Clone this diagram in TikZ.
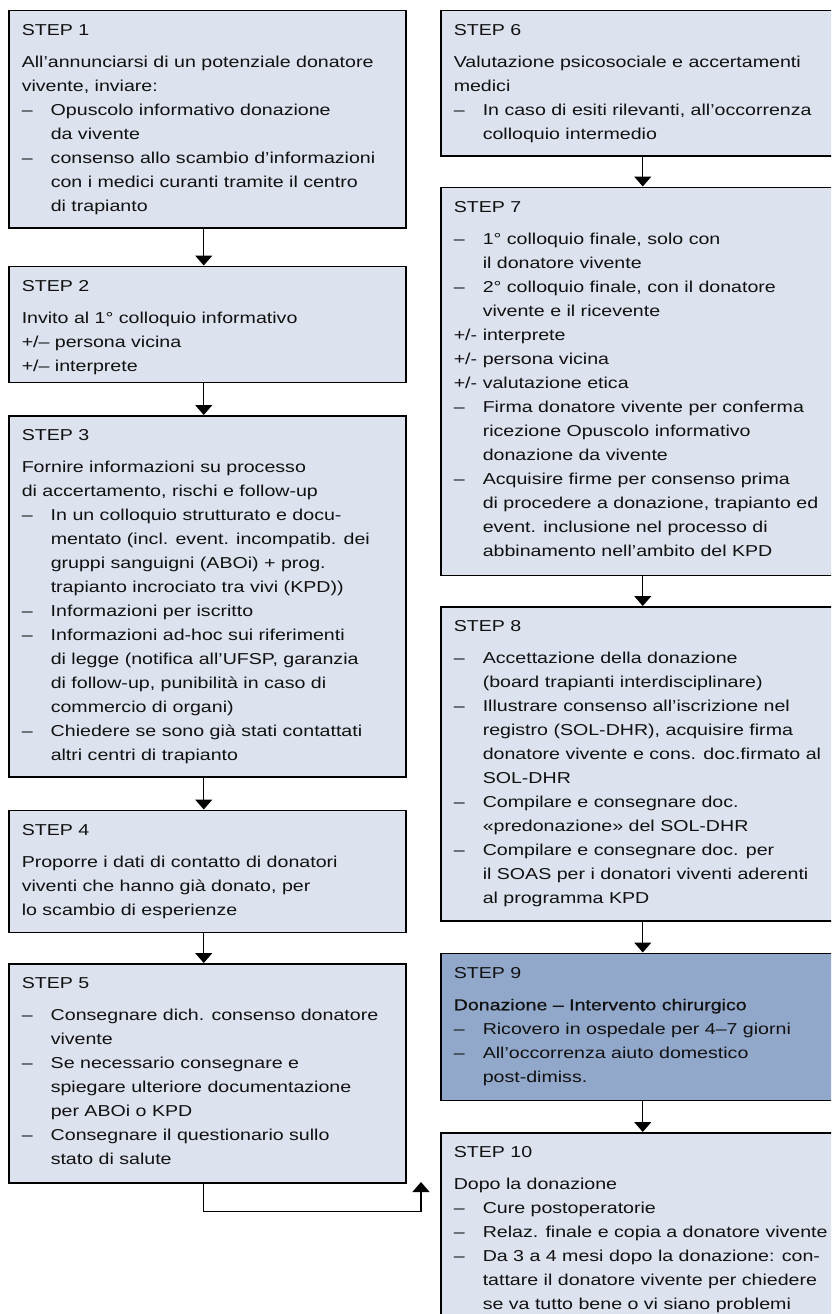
\documentclass[tikz,border=0pt]{standalone}
\usepackage{fontspec}
\setmainfont{Liberation Sans}[FakeStretch=1.24]
\usetikzlibrary{positioning,arrows.meta}

\definecolor{boxfill}{HTML}{DCE2EE}
\definecolor{boxdark}{HTML}{92A8CB}
\definecolor{ink}{HTML}{111111}

\newcommand{\head}[1]{\vspace*{14pt}#1\par\vspace{8pt}}
\newcommand{\itm}[2][–]{\par\hangindent=29pt\hangafter=1\noindent\makebox[29pt][l]{#1}#2}

\tikzset{
    stepbox/.style = {
        draw=black,
        line width=1.5pt,
        fill=boxfill,
        inner xsep=13pt,
        inner ysep=0pt,
        text=ink,
        font=\fontsize{15.8pt}{24pt}\selectfont
    },
    flow/.style = {
        line width=1.3pt,
        -{Triangle[width=17pt,length=10pt]}
    }
}

\begin{document}
\begin{tikzpicture}[x=1pt,y=-1pt]
    \useasboundingbox (0,0) rectangle (831,1314);
    \clip (0,0) rectangle (831,1314);

    % Left column
    \node[stepbox, anchor=north west] (step1) at (8,10) {\parbox[t][217pt][t]{371pt}{\head{STEP 1}
        All’annunciarsi di un potenziale donatore\\vivente, inviare:
        \itm{Opuscolo informativo donazione\\da vivente}
        \itm{consenso allo scambio d’informazioni\\con i medici curanti tramite il centro\\di trapianto}}};
    \node[stepbox, below=37pt of step1] (step2) {\parbox[t][116pt][t]{371pt}{\head{STEP 2}
        Invito al 1° colloquio informativo\\+/– persona vicina\\+/– interprete}};
    \node[stepbox, below=32pt of step2] (step3) {\parbox[t][361pt][t]{371pt}{\head{STEP 3}
        Fornire informazioni su processo\\di accertamento, rischi e follow-up
        \itm{In un colloquio strutturato e docu-\\mentato (incl. event. incompatib. dei\\gruppi sanguigni (ABOi) + prog.\\trapianto incrociato tra vivi (KPD))}
        \itm{Informazioni per iscritto}
        \itm{Informazioni ad-hoc sui riferimenti\\di legge (notifica all’UFSP, garanzia\\di follow-up, punibilità in caso di\\commercio di organi)}
        \itm{Chiedere se sono già stati contattati\\altri centri di trapianto}}};
    \node[stepbox, below=32pt of step3] (step4) {\parbox[t][122pt][t]{371pt}{\head{STEP 4}
        Proporre i dati di contatto di donatori\\viventi che hanno già donato, per\\lo scambio di esperienze}};
    \node[stepbox, below=30pt of step4] (step5) {\parbox[t][219pt][t]{371pt}{\head{STEP 5}
        \itm{Consegnare dich. consenso donatore\\vivente}
        \itm{Se necessario consegnare e\\spiegare ulteriore documentazione\\per ABOi o KPD}
        \itm{Consegnare il questionario sullo\\stato di salute}}};

    % Right column
    \node[stepbox, anchor=north west] (step6) at (440,10) {\parbox[t][145pt][t]{390pt}{\head{STEP 6}
        Valutazione psicosociale e accertamenti\\medici
        \itm{In caso di esiti rilevanti, all’occorrenza\\colloquio intermedio}}};
    \node[stepbox, below=30pt of step6] (step7) {\parbox[t][388pt][t]{390pt}{\head{STEP 7}
        \itm{1° colloquio finale, solo con\\il donatore vivente}
        \itm{2° colloquio finale, con il donatore\\vivente e il ricevente}
        \itm[+/-]{interprete}
        \itm[+/-]{persona vicina}
        \itm[+/-]{valutazione etica}
        \itm{Firma donatore vivente per conferma\\ricezione Opuscolo informativo\\donazione da vivente}
        \itm{Acquisire firme per consenso prima\\di procedere a donazione, trapianto ed\\event. inclusione nel processo di\\abbinamento nell’ambito del KPD}}};
    \node[stepbox, below=30pt of step7] (step8) {\parbox[t][314pt][t]{390pt}{\head{STEP 8}
        \itm{Accettazione della donazione\\(board trapianti interdisciplinare)}
        \itm{Illustrare consenso all’iscrizione nel\\registro (SOL-DHR), acquisire firma\\donatore vivente e cons. doc.firmato al\\SOL-DHR}
        \itm{Compilare e consegnare doc.\\«predonazione» del SOL-DHR}
        \itm{Compilare e consegnare doc. per\\il SOAS per i donatori viventi aderenti\\al programma KPD}}};
    \node[stepbox, fill=boxdark, below=31pt of step8] (step9) {\parbox[t][147pt][t]{390pt}{\head{STEP 9}
        {\addfontfeature{FakeBold=0.8}Donazione – Intervento chirurgico}
        \itm{Ricovero in ospedale per 4–7 giorni}
        \itm{All’occorrenza aiuto domestico\\post-dimiss.}}};
    \node[stepbox, below=31pt of step9] (step10) {\parbox[t][250pt][t]{390pt}{\head{STEP 10}
        Dopo la donazione
        \itm{Cure postoperatorie}
        \itm{Relaz. finale e copia a donatore vivente}
        \itm{Da 3 a 4 mesi dopo la donazione: con-\\tattare il donatore vivente per chiedere\\se va tutto bene o vi siano problemi}}};

    % Arrows
    \draw[flow] ([xshift=-3.5pt]step1.south) -- ([xshift=-3.5pt]step2.north);
    \draw[flow] ([xshift=-3.5pt]step2.south) -- ([xshift=-3.5pt]step3.north);
    \draw[flow] ([xshift=-3.5pt]step3.south) -- ([xshift=-3.5pt]step4.north);
    \draw[flow] ([xshift=-3.5pt]step4.south) -- ([xshift=-3.5pt]step5.north);
    \draw[flow] ([xshift=-6pt]step6.south) -- ([xshift=-6pt]step7.north);
    \draw[flow] ([xshift=-6pt]step7.south) -- ([xshift=-6pt]step8.north);
    \draw[flow] ([xshift=-6pt]step8.south) -- ([xshift=-6pt]step9.north);
    \draw[flow] ([xshift=-6pt]step9.south) -- ([xshift=-6pt]step10.north);

    % Jump to the right column
    \coordinate (back) at (421,1182);
    \draw[flow] ([xshift=-3.5pt]step5.south) -- ++(0,28) -| (back);
\end{tikzpicture}
\end{document}
